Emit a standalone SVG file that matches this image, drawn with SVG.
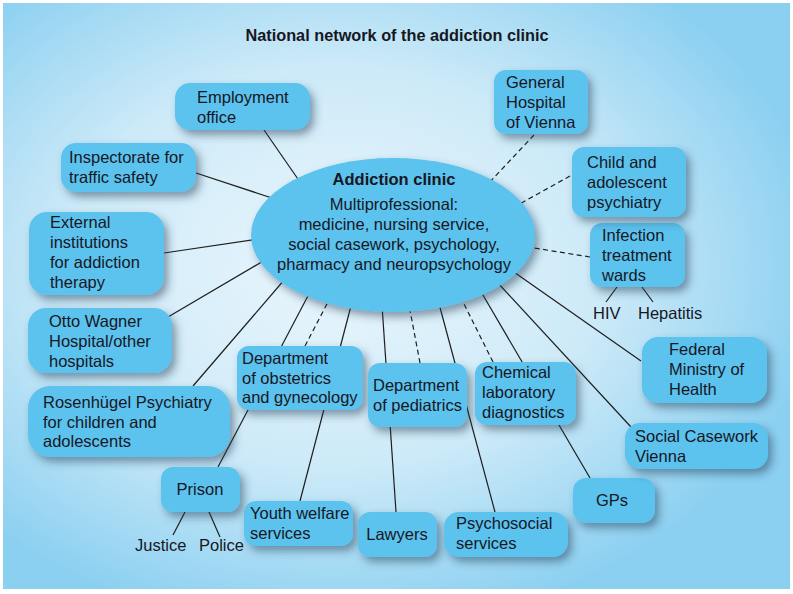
<svg xmlns="http://www.w3.org/2000/svg" width="793" height="594" viewBox="0 0 793 594">
<defs>
<radialGradient id="bg" cx="0.42" cy="0.45" r="0.62">
<stop offset="0" stop-color="#eaf6fd"/>
<stop offset="0.55" stop-color="#cdeaf8"/>
<stop offset="1" stop-color="#8cd0f1"/>
</radialGradient>
<filter id="sh" x="-20%" y="-20%" width="150%" height="160%">
<feDropShadow dx="4" dy="5" stdDeviation="4.5" flood-color="#1d3b55" flood-opacity="0.5"/>
</filter>
<style>
.box{fill:#5cc2ee;filter:url(#sh)}
.t{font-family:"Liberation Sans",Arial,sans-serif;font-size:16.5px;fill:#17171f}
.c{text-anchor:middle}
.b{font-weight:bold}
.ln{stroke:#1e1e1e;stroke-width:1.2;fill:none}
.d{stroke-dasharray:5 3.5}
</style>
</defs>
<rect x="0" y="0" width="793" height="594" fill="#ffffff"/>
<rect x="3" y="3" width="787" height="586" fill="url(#bg)"/>
<text class="t b c" x="397" y="41" style="font-size:16.3px">National network of the addiction clinic</text>

<g id="connectors">
<line class="ln" x1="264" y1="130" x2="300" y2="182"/>
<line class="ln" x1="196" y1="173" x2="275" y2="199"/>
<line class="ln" x1="164" y1="253" x2="258" y2="239"/>
<line class="ln" x1="168" y1="317" x2="265" y2="260"/>
<line class="ln" x1="193" y1="386" x2="285" y2="279"/>
<line class="ln" x1="218" y1="467" x2="310" y2="292"/>
<line class="ln d" x1="305" y1="346" x2="329" y2="300"/>
<line class="ln" x1="300" y1="501" x2="352" y2="302"/>
<line class="ln" x1="396" y1="512" x2="382" y2="305"/>
<line class="ln d" x1="420" y1="363" x2="409" y2="305"/>
<line class="ln" x1="495" y1="512" x2="438" y2="300"/>
<line class="ln d" x1="493" y1="362" x2="460" y2="296"/>
<line class="ln" x1="590" y1="478" x2="480" y2="290"/>
<line class="ln" x1="631" y1="427" x2="497" y2="282"/>
<line class="ln" x1="641" y1="361" x2="511" y2="270"/>
<line class="ln d" x1="590" y1="257" x2="528" y2="247"/>
<line class="ln d" x1="570" y1="176" x2="516" y2="206"/>
<line class="ln d" x1="534" y1="135" x2="487" y2="185"/>
<line class="ln" x1="617" y1="287" x2="606" y2="302"/>
<line class="ln" x1="642" y1="287" x2="653" y2="302"/>
<line class="ln" x1="185" y1="512" x2="173" y2="535"/>
<line class="ln" x1="209" y1="512" x2="220" y2="537"/>
</g>

<g id="addiction-clinic">
<ellipse class="box" cx="393" cy="235" rx="142" ry="77"/>
<text class="t b c" x="394" y="185">Addiction clinic</text>
<text class="t c" x="394" y="210">Multiprofessional:</text>
<text class="t c" x="394" y="230">medicine, nursing service,</text>
<text class="t c" x="394" y="250">social casework, psychology,</text>
<text class="t c" x="394" y="270">pharmacy and neuropsychology</text>
</g>

<g id="employment-office">
<rect class="box" x="175" y="83" width="135" height="47" rx="15"/>
<text class="t" x="197" y="103">Employment</text>
<text class="t" x="197" y="123">office</text>
</g>
<g id="inspectorate">
<rect class="box" x="61" y="143" width="135" height="49" rx="15"/>
<text class="t" x="69" y="163">Inspectorate for</text>
<text class="t" x="69" y="183">traffic safety</text>
</g>
<g id="external-institutions">
<rect class="box" x="29" y="212" width="135" height="83" rx="18"/>
<text class="t" x="50" y="228">External</text>
<text class="t" x="50" y="248">institutions</text>
<text class="t" x="50" y="268">for addiction</text>
<text class="t" x="50" y="288">therapy</text>
</g>
<g id="otto-wagner">
<rect class="box" x="28" y="308" width="144" height="65" rx="18"/>
<text class="t" x="49" y="327">Otto Wagner</text>
<text class="t" x="49" y="347">Hospital/other</text>
<text class="t" x="49" y="367">hospitals</text>
</g>
<g id="rosenhuegel">
<rect class="box" x="28" y="386" width="202" height="71" rx="22"/>
<text class="t" x="43" y="408">Rosenhügel Psychiatry</text>
<text class="t" x="43" y="428">for children and</text>
<text class="t" x="43" y="447">adolescents</text>
</g>
<g id="obstetrics">
<rect class="box" x="237" y="346" width="126" height="64" rx="12"/>
<text class="t" x="242" y="364">Department</text>
<text class="t" x="242" y="384">of obstetrics</text>
<text class="t" x="242" y="403">and gynecology</text>
</g>
<g id="pediatrics">
<rect class="box" x="368" y="363" width="99" height="64" rx="12"/>
<text class="t" x="373" y="391">Department</text>
<text class="t" x="373" y="411">of pediatrics</text>
</g>
<g id="chemical-lab">
<rect class="box" x="475" y="362" width="101" height="63" rx="12"/>
<text class="t" x="482" y="378">Chemical</text>
<text class="t" x="482" y="398">laboratory</text>
<text class="t" x="482" y="418">diagnostics</text>
</g>
<g id="prison">
<rect class="box" x="161" y="467" width="79" height="45" rx="12"/>
<text class="t c" x="200" y="495">Prison</text>
</g>
<text class="t" x="135" y="551">Justice</text>
<text class="t" x="199" y="551">Police</text>
<g id="youth-welfare">
<rect class="box" x="244" y="501" width="109" height="45" rx="12"/>
<text class="t" x="250" y="519">Youth welfare</text>
<text class="t" x="250" y="539">services</text>
</g>
<g id="lawyers">
<rect class="box" x="358" y="512" width="79" height="45" rx="12"/>
<text class="t c" x="397" y="540">Lawyers</text>
</g>
<g id="psychosocial">
<rect class="box" x="444" y="512" width="124" height="45" rx="15"/>
<text class="t" x="456" y="529">Psychosocial</text>
<text class="t" x="456" y="549">services</text>
</g>
<g id="gps">
<rect class="box" x="573" y="478" width="82" height="45" rx="13"/>
<text class="t c" x="612" y="506">GPs</text>
</g>
<g id="social-casework">
<rect class="box" x="625" y="423" width="143" height="46" rx="15"/>
<text class="t" x="635" y="442">Social Casework</text>
<text class="t" x="635" y="462">Vienna</text>
</g>
<g id="federal-ministry">
<rect class="box" x="642" y="337" width="125" height="66" rx="16"/>
<text class="t" x="669" y="355">Federal</text>
<text class="t" x="669" y="375">Ministry of</text>
<text class="t" x="669" y="395">Health</text>
</g>
<g id="infection-wards">
<rect class="box" x="590" y="223" width="95" height="64" rx="12"/>
<text class="t" x="602" y="241">Infection</text>
<text class="t" x="602" y="261">treatment</text>
<text class="t" x="602" y="281">wards</text>
</g>
<text class="t" x="593" y="319">HIV</text>
<text class="t" x="638" y="319">Hepatitis</text>
<g id="child-psychiatry">
<rect class="box" x="572" y="147" width="114" height="70" rx="12"/>
<text class="t" x="587" y="168">Child and</text>
<text class="t" x="587" y="188">adolescent</text>
<text class="t" x="587" y="208">psychiatry</text>
</g>
<g id="general-hospital">
<rect class="box" x="494" y="70" width="94" height="64" rx="12"/>
<text class="t" x="506" y="88">General</text>
<text class="t" x="506" y="108">Hospital</text>
<text class="t" x="506" y="128">of Vienna</text>
</g>
</svg>
